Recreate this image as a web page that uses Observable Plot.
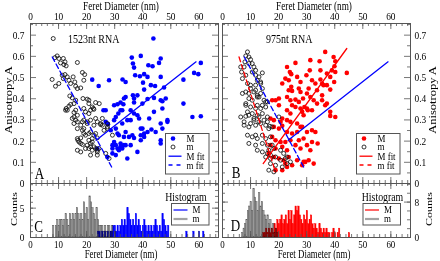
<!DOCTYPE html>
<html>
<head>
<meta charset="utf-8">
<script src="https://cdn.jsdelivr.net/npm/d3@7"></script>
<script src="https://cdn.jsdelivr.net/npm/@observablehq/plot@0.6"></script>
<style>
  body { margin: 0; background: #fff; }
  #fig { position: relative; width: 440px; height: 261px; overflow: hidden; background: #fff; }
</style>
</head>
<body>
<div id="fig"></div>
<script>
// ---- Feret diameter (nm) and anisotropy A of individual particles ----
// 1523nt RNA, large-mode particles (M)
const big1523 = [
  [43.8,0.684],[36.1,0.594],[39.3,0.602],[36.5,0.566],[36.9,0.547],[46.4,0.59],[45.8,0.569],[42.0,0.558],[43.5,0.553],
  [60.7,0.569],[58.3,0.522],[59.8,0.516],[32.8,0.491],[33.9,0.479],[37.3,0.511],[39.0,0.506],[40.5,0.516],[41.7,0.503],
  [46.4,0.503],[40.1,0.476],[42.9,0.464],[44.4,0.46],[47.6,0.453],[54.5,0.49],[33.9,0.408],[33.3,0.401],[36.5,0.416],
  [38.1,0.416],[44.0,0.404],[48.2,0.401],[54.5,0.377],[39.9,0.377],[47.0,0.388],[31.0,0.374],[33.1,0.374],[36.9,0.382],
  [22.0,0.49],[24.3,0.46],[28.0,0.487],[26.0,0.346],[32.1,0.346],[35.7,0.346],[30.4,0.314],[35.7,0.299],[38.1,0.322],
  [42.3,0.307],[41.7,0.399],[60.7,0.317],[40.5,0.443],[32.1,0.382],[29.8,0.369],[26.8,0.346],[31.3,0.33],[29.8,0.299],
  [26.8,0.291],[32.7,0.283],[28.6,0.251],[31.0,0.236],[33.9,0.243],[29.8,0.196],[32.1,0.189],[33.9,0.181],[29.2,0.165],
  [31.5,0.157],[27.4,0.125],[36.9,0.401],[46.4,0.393],[47.0,0.354],[32.7,0.346],[36.9,0.33],[44.0,0.338],[38.7,0.307],
  [34.5,0.299],[48.8,0.291],[57.7,0.314],[39.3,0.259],[43.1,0.255],[40.5,0.236],[47.0,0.259],[33.3,0.22],[35.1,0.22],
  [36.9,0.215],[39.3,0.204],[46.4,0.189],[33.3,0.181],[31.0,0.165],[32.7,0.165],[35.7,0.181],[30.4,0.134],[34.5,0.118],
  [29.2,0.181],[27.6,0.28],[30.4,0.259],[39.3,0.228],[41.7,0.243],[44.6,0.243],[46.4,0.204],[40.5,0.22],[30.4,0.181],
  [32.1,0.173],[38.1,0.149],[23.8,0.165],[29.2,0.142],[36.3,0.228],[31.5,0.228],[39.9,0.259],[46.4,0.283],[48.8,0.299]
];
// 1523nt RNA, small-mode particles (m)
const small1523 = [
  [8.1,0.684],[9.5,0.602],[8.7,0.594],[10.1,0.59],[11.7,0.59],[12.3,0.574],[11.9,0.561],[12.7,0.555],[10.7,0.569],
  [16.7,0.571],[7.7,0.491],[8.9,0.459],[11.3,0.511],[12.3,0.514],[13.1,0.503],[11.7,0.495],[15.2,0.503],[13.7,0.487],
  [15.8,0.479],[18.5,0.524],[19.3,0.514],[19.0,0.487],[10.1,0.472],[14.3,0.472],[16.1,0.459],[16.7,0.448],[17.9,0.451],
  [14.0,0.413],[14.9,0.404],[15.5,0.377],[18.7,0.401],[20.2,0.398],[14.3,0.373],[13.7,0.365],[16.1,0.393],[16.7,0.322],
  [15.5,0.314],[13.1,0.346],[21.4,0.346],[22.4,0.354],[24.5,0.377],[19.0,0.299],[20.2,0.291],[23.2,0.307],[25.6,0.275],
  [27.4,0.267],[20.8,0.393],[12.7,0.354],[16.1,0.346],[15.5,0.335],[14.9,0.307],[16.1,0.299],[20.8,0.377],[19.0,0.354],
  [22.0,0.361],[23.2,0.382],[19.6,0.338],[20.8,0.33],[22.6,0.35],[16.7,0.291],[17.9,0.275],[18.5,0.291],[20.2,0.283],
  [21.4,0.299],[22.6,0.275],[23.8,0.291],[25.0,0.278],[25.6,0.307],[27.4,0.259],[19.0,0.259],[19.6,0.228],[20.8,0.236],
  [22.0,0.212],[22.6,0.228],[23.8,0.215],[16.7,0.212],[17.9,0.215],[17.3,0.196],[18.5,0.184],[20.2,0.181],[21.4,0.189],
  [22.6,0.173],[23.2,0.165],[24.4,0.165],[23.8,0.149],[20.8,0.165],[21.4,0.134],[23.8,0.134],[12.5,0.346],[16.7,0.259],
  [18.5,0.251],[19.0,0.236],[21.4,0.243],[23.2,0.236],[16.9,0.204],[17.9,0.189],[20.8,0.204],[22.0,0.196],[16.7,0.157],
  [17.9,0.149],[19.6,0.165],[21.4,0.173],[22.0,0.157],[23.8,0.157],[26.8,0.142],[28.0,0.118],[15.5,0.283],[25.0,0.283],
  [27.4,0.283],[29.2,0.228],[26.2,0.251]
];
// 975nt RNA, large-mode particles (M)
const big975 = [
  [36.6,0.621],[39.6,0.597],[40.2,0.577],[39.9,0.553],[34.6,0.577],[39.0,0.534],[40.2,0.526],[44.3,0.522],[26.0,0.569],
  [31.3,0.582],[31.1,0.534],[34.9,0.534],[37.2,0.519],[38.4,0.503],[23.0,0.55],[24.0,0.526],[24.5,0.516],[22.4,0.495],
  [23.6,0.487],[21.3,0.472],[26.6,0.503],[27.8,0.479],[29.9,0.511],[31.9,0.487],[33.1,0.472],[34.9,0.491],[35.5,0.472],
  [37.2,0.464],[38.4,0.443],[39.8,0.479],[24.5,0.456],[23.6,0.44],[24.8,0.437],[27.2,0.448],[27.8,0.432],[30.7,0.448],
  [30.1,0.425],[31.3,0.408],[33.7,0.44],[20.1,0.401],[18.9,0.393],[23.0,0.408],[24.2,0.393],[26.0,0.396],[27.2,0.385],
  [28.7,0.401],[32.5,0.393],[33.7,0.377],[35.5,0.393],[37.2,0.377],[24.8,0.369],[26.0,0.361],[27.8,0.354],[29.2,0.361],
  [30.4,0.346],[31.9,0.346],[38.4,0.338],[40.2,0.314],[23.0,0.346],[28.9,0.322],[21.3,0.307],[23.0,0.299],[24.2,0.291],
  [26.6,0.283],[27.8,0.267],[17.1,0.307],[18.3,0.299],[17.7,0.393],[20.1,0.369],[24.2,0.33],[28.4,0.338],[30.1,0.354],
  [20.7,0.291],[18.3,0.267],[20.1,0.259],[21.3,0.272],[23.0,0.243],[24.8,0.236],[26.6,0.243],[28.4,0.267],[30.1,0.243],
  [31.9,0.251],[17.7,0.22],[18.9,0.204],[20.7,0.196],[22.4,0.196],[24.2,0.204],[17.1,0.181],[18.9,0.165],[21.3,0.173],
  [23.0,0.157],[26.0,0.181],[27.8,0.165],[30.1,0.181],[31.3,0.157],[31.9,0.196],[16.5,0.142],[18.3,0.125],[20.1,0.118],
  [21.8,0.11],[23.6,0.125],[26.6,0.11],[28.4,0.086],[29.5,0.102],[23.0,0.078],[21.3,0.063],[18.9,0.063],[22.4,0.094],
  [24.8,0.086],[28.9,0.102],[30.7,0.11],[32.5,0.094],[33.9,0.189],[27.2,0.204],[28.9,0.212],[33.1,0.243],[36.6,0.369],
  [38.4,0.319],[36.0,0.464],[35.5,0.416]
];
// 975nt RNA, small-mode particles (m)
const small975 = [
  [8.9,0.621],[8.3,0.602],[9.4,0.597],[10.0,0.585],[10.6,0.566],[9.4,0.566],[8.0,0.574],[11.2,0.55],[11.8,0.534],
  [10.6,0.526],[6.5,0.55],[7.7,0.55],[6.8,0.526],[8.3,0.511],[7.1,0.495],[11.8,0.511],[13.0,0.503],[12.4,0.487],
  [8.9,0.472],[10.0,0.464],[11.8,0.464],[13.6,0.472],[14.2,0.448],[8.3,0.432],[9.4,0.425],[11.2,0.432],[12.4,0.416],
  [13.6,0.425],[9.4,0.401],[10.6,0.393],[14.8,0.393],[16.0,0.385],[10.0,0.448],[11.8,0.44],[7.1,0.425],[13.0,0.408],
  [8.3,0.377],[10.0,0.361],[12.4,0.369],[13.6,0.354],[15.4,0.361],[8.9,0.338],[10.6,0.33],[12.4,0.322],[14.2,0.33],
  [16.0,0.314],[8.3,0.317],[11.2,0.299],[13.0,0.291],[16.0,0.291],[16.9,0.27],[7.7,0.275],[20.1,0.314],[14.2,0.522],
  [13.6,0.479],[12.4,0.408],[8.3,0.369],[11.8,0.354],[14.2,0.369],[15.4,0.385],[9.4,0.322],[11.2,0.307],[13.0,0.314],
  [14.8,0.299],[10.0,0.283],[11.8,0.275],[13.6,0.283],[15.4,0.275],[16.5,0.259],[17.7,0.267],[8.9,0.228],[10.6,0.22],
  [12.4,0.212],[14.2,0.228],[15.4,0.212],[17.1,0.22],[9.4,0.189],[11.8,0.181],[14.2,0.189],[16.0,0.181],[17.7,0.181],
  [12.4,0.157],[14.2,0.149],[16.5,0.157],[18.3,0.165],[20.7,0.157],[15.4,0.125],[17.1,0.118],[18.9,0.125],[20.7,0.11],
  [22.4,0.118],[24.2,0.102],[17.1,0.094],[18.9,0.086],[16.5,0.063],[18.3,0.055],[21.3,0.078],[23.0,0.094],[6.5,0.314],
  [7.7,0.291],[9.4,0.267],[11.8,0.228],[16.0,0.142],[17.1,0.134],[21.8,0.142],[23.0,0.125]
];

// Linear fits of A against Feret diameter (end points in nm, A)
const fit1523M = [[23.4,0.204],[59.0,0.574]];
const fit1523m = [[7.75,0.597],[29.2,0.071]];
const fit975M  = [[14.5,0.094],[44.3,0.637]];
const fit975m  = [[5.9,0.597],[18.5,0.07]];

// Histograms: counts per 0.5 nm bin, starting at the given diameter
const binWidth = 0.5;
const histStart1523m = 8.0;
const hist1523m = [2,0,2,3,2,3,3,2,3,4,3,2,4,3,4,3,4,5,4,3,4,3,6,4,5,3,7,6,5,4,3,5,3,2,2,2,1,2,1,2,2,1,2,0,1];
const histStart1523M = 24.0;
const hist1523M = [1,1,0,1,0,1,0,1,0,1,1,2,2,1,2,1,2,3,2,3,2,5,4,3,2,3,2,4,2,3,2,1,2,3,2,1,2,1,2,1,2,3,2,1,2,1,4,3,2,1,2,
  0,0,0,0,0,0,0,0,0,0,0,0,1,0,0,0,0,1,0,0,0,1,0,0,1];
const histStart975m = 7.0;
const hist975m = [1,2,3,4,6,7,8,6,11,9,8,6,10,7,8,6,5,4,5,3,4,2,3,1,2,1];
const histStart975M = 14.5;
const hist975M = [1,1,2,1,2,1,2,1,3,2,4,3,4,5,3,4,5,3,6,4,6,3,5,7,6,7,5,4,3,5,4,6,3,4,5,3,2,3,2,1,3,2,1,2,1,2,1,1,0,1,2,1,0,1,2,
  0,0,0,0,0,0,1];

// Axis ticks
const xDomain = [0, 67];
const aDomain = [0, 0.755];
const xMajor = [0, 10, 20, 30, 40, 50, 60];
const xMinor = d3.range(0, 67, 2);
const aMajor = [0, 0.1, 0.2, 0.3, 0.4, 0.5, 0.6, 0.7];
const aMinor = [0.05, 0.15, 0.25, 0.35, 0.45, 0.55, 0.65, 0.75];
const c1523Major = [0, 5], c1523Minor = d3.range(0, 10, 1), c1523Domain = [0, 9.2];
const c975Major = [0, 8], c975Minor = d3.range(0, 13, 2), c975Domain = [0, 12.2];

// ---- styling ----
const FONT = '"Liberation Serif", "Times New Roman", serif';
const AX = "#555";
const BLUE = "#0000ff", RED = "#ff0000", GRAY = "#a3a3a3";
const SQ_TICK = 0.85;     // horizontal narrowing of tick lettering
const SQ_TITLE = 0.77;    // horizontal narrowing of titles and panel letters
const MAJ = 6, MIN = 3;

const fig = document.getElementById("fig");
const pts = a => a.map(([x, y]) => ({x, y}));
const bars = (start, counts) => counts.map((n, i) => ({x1: start + i * binWidth, x2: start + (i + 1) * binWidth, n})).filter(d => d.n > 0);
const fmtA = d => d === 0 ? "0" : d.toFixed(1);

function ticksX(vals, len, side, innerH) {
  return Plot.tickX(vals, {x: d => d, stroke: AX, strokeWidth: 0.8,
    ...(side === "top" ? {insetBottom: innerH - len} : {insetTop: innerH - len})});
}
function ticksY(vals, len, side, innerW) {
  return Plot.tickY(vals, {y: d => d, stroke: AX, strokeWidth: 0.8,
    ...(side === "left" ? {insetRight: innerW - len} : {insetLeft: innerW - len})});
}
function boxTicks(iw, ih, yMaj, yMin) {
  return [
    ticksX(xMajor, MAJ, "top", ih), ticksX(xMinor, MIN, "top", ih),
    ticksX(xMajor, MAJ, "bottom", ih), ticksX(xMinor, MIN, "bottom", ih),
    ticksY(yMaj, MAJ, "left", iw), ticksY(yMin, MIN, "left", iw),
    ticksY(yMaj, MAJ, "right", iw), ticksY(yMin, MIN, "right", iw)
  ];
}
function place(svg, left, top) {
  svg.style.position = "absolute";
  svg.style.left = left + "px";
  svg.style.top = top + "px";
  svg.querySelectorAll("text").forEach(t => {
    t.setAttribute("transform", (t.getAttribute("transform") || "") + ` scale(${SQ_TICK},1)`);
  });
  fig.appendChild(svg);
}
const baseStyle = {fontFamily: FONT, background: "transparent", overflow: "visible", color: "#000"};

// ---- scatter panels ----
function scatter({left, side, big, small, bigColor, fits}) {
  const W = 220, H = 184, mT = 23, mB = 1;
  const mL = side === "left" ? 30 : 2, mR = side === "left" ? 2 : 30;
  const iw = W - mL - mR, ih = H - mT - mB;
  const svg = Plot.plot({
    width: W, height: H, marginLeft: mL, marginRight: mR, marginTop: mT, marginBottom: mB,
    style: baseStyle,
    x: {domain: xDomain}, y: {domain: aDomain},
    marks: [
      Plot.dot(pts(big), {x: "x", y: "y", r: 2.3, fill: bigColor, stroke: "none"}),
      Plot.dot(pts(small), {x: "x", y: "y", r: 2.0, fill: "none", stroke: "#111", strokeWidth: 0.85}),
      ...fits.map(f => Plot.line(pts(f.data), {x: "x", y: "y", stroke: f.color, strokeWidth: 1.3,
        strokeDasharray: f.dash ? "5,3" : null})),
      Plot.frame({stroke: AX, strokeWidth: 1}),
      ...boxTicks(iw, ih, aMajor, aMinor),
      Plot.axisX({anchor: "top", ticks: xMajor, tickSize: 0, tickPadding: 4, label: null, fontSize: 11, tickFormat: d => d}),
      Plot.axisY({anchor: side, ticks: aMajor, tickSize: 0, tickPadding: side === "left" ? 6 : 4, label: null, fontSize: 11, tickFormat: fmtA})
    ]
  });
  place(svg, left, 0);
}

// ---- histogram panels ----
function histogram({left, side, mStart, mCounts, MStart, MCounts, MColor, yDomain, yMaj, yMin}) {
  const W = 220, H = 78, mT = 0, mB = 24;
  const mL = side === "left" ? 30 : 2, mR = side === "left" ? 2 : 30;
  const iw = W - mL - mR, ih = H - mT - mB;
  const svg = Plot.plot({
    width: W, height: H, marginLeft: mL, marginRight: mR, marginTop: mT, marginBottom: mB,
    style: baseStyle,
    x: {domain: xDomain}, y: {domain: yDomain},
    marks: [
      Plot.rectY(bars(mStart, mCounts), {x1: "x1", x2: "x2", y: "n", fill: GRAY, stroke: "#5a5a5a", strokeWidth: 0.5}),
      Plot.rectY(bars(MStart, MCounts), {x1: "x1", x2: "x2", y: "n", fill: MColor, stroke: MColor, strokeWidth: 0.4, mixBlendMode: "multiply"}),
      Plot.frame({stroke: AX, strokeWidth: 1}),
      ...boxTicks(iw, ih, yMaj, yMin),
      Plot.axisX({anchor: "bottom", ticks: xMajor, tickSize: 0, tickPadding: 3, label: null, fontSize: 10.5, tickFormat: d => d}),
      Plot.axisY({anchor: side, ticks: yMaj, tickSize: 0, tickPadding: side === "left" ? 6 : 4, label: null, fontSize: 11, tickFormat: d => d})
    ]
  });
  place(svg, left, 183);
}

scatter({left: 0, side: "left", big: big1523, small: small1523, bigColor: BLUE,
  fits: [{data: fit1523M, color: BLUE}, {data: fit1523m, color: BLUE, dash: true}]});
scatter({left: 220, side: "right", big: big975, small: small975, bigColor: RED,
  fits: [{data: fit1523M, color: BLUE}, {data: fit1523m, color: BLUE, dash: true},
         {data: fit975M, color: RED}, {data: fit975m, color: RED, dash: true}]});
histogram({left: 0, side: "left", mStart: histStart1523m, mCounts: hist1523m, MStart: histStart1523M, MCounts: hist1523M,
  MColor: BLUE, yDomain: c1523Domain, yMaj: c1523Major, yMin: c1523Minor});
histogram({left: 220, side: "right", mStart: histStart975m, mCounts: hist975m, MStart: histStart975M, MCounts: hist975M,
  MColor: RED, yDomain: c975Domain, yMaj: c975Major, yMin: c975Minor});

// ---- titles, panel letters and legends ----
const ov = d3.select(fig).append("svg")
  .attr("width", 440).attr("height", 261)
  .style("position", "absolute").style("left", "0px").style("top", "0px")
  .attr("font-family", FONT);

function label(x, y, s, size, anchor = "middle", rot = 0, sq = SQ_TITLE, baseline = "central") {
  const tr = rot ? `translate(${x},${y}) rotate(${rot}) scale(1,${sq})` : `translate(${x},${y}) scale(${sq},1)`;
  ov.append("text").attr("transform", tr).attr("text-anchor", anchor)
    .attr("dominant-baseline", baseline).attr("font-size", size).attr("fill", "#000").text(s);
}

label(121, 5.5, "Feret Diameter (nm)", 12);
label(314, 5.5, "Feret Diameter (nm)", 12);
label(121, 257.5, "Feret Diameter (nm)", 11.5, "middle", 0, SQ_TITLE, "alphabetic");
label(314, 257.5, "Feret Diameter (nm)", 11.5, "middle", 0, SQ_TITLE, "alphabetic");
label(9, 100, "Anisotropy A", 12.5, "middle", -90);
label(433, 100, "Anisotropy A", 12.5, "middle", -90);
label(14, 209, "Counts", 12, "middle", -90);
label(429, 209, "Counts", 12, "middle", -90);
label(68, 39.5, "1523nt RNA", 13, "start");
label(266, 39.5, "975nt RNA", 13, "start");
label(39.5, 172.5, "A", 17);
label(236, 171.5, "B", 17);
label(38.5, 226, "C", 17);
label(235.5, 224.5, "D", 17);
label(186, 197, "Histogram", 12, "middle", 0, 0.82);
label(382.5, 197, "Histogram", 12, "middle", 0, 0.82);

function scatterLegend(x0, color) {
  const g = ov.append("g");
  g.append("rect").attr("x", x0).attr("y", 133.5).attr("width", 43.5).attr("height", 40.5)
    .attr("fill", "#fff").attr("stroke", AX).attr("stroke-width", 1);
  const sx = x0 + 7.5, tx = x0 + 21;
  g.append("circle").attr("cx", sx).attr("cy", 138.5).attr("r", 2.3).attr("fill", color);
  g.append("circle").attr("cx", sx).attr("cy", 147).attr("r", 2).attr("fill", "none").attr("stroke", "#111").attr("stroke-width", 0.85);
  g.append("line").attr("x1", x0 + 3).attr("x2", x0 + 16).attr("y1", 156.2).attr("y2", 156.2).attr("stroke", color).attr("stroke-width", 1.3);
  g.append("line").attr("x1", x0 + 3).attr("x2", x0 + 16).attr("y1", 165).attr("y2", 165).attr("stroke", color).attr("stroke-width", 1.3).attr("stroke-dasharray", "4,4");
  [["M", 138.5], ["m", 146.5], ["M fit", 156], ["m fit", 165]].forEach(([s, y]) => label(tx, y, s, 10.5, "start", 0, 0.85));
}
scatterLegend(165.5, BLUE);
scatterLegend(356.5, RED);

function histLegend(x0, color) {
  const g = ov.append("g");
  g.append("rect").attr("x", x0).attr("y", 203.5).attr("width", 37.5).attr("height", 21.5)
    .attr("fill", "#fff").attr("stroke", AX).attr("stroke-width", 1);
  g.append("line").attr("x1", x0 + 2).attr("x2", x0 + 16).attr("y1", 210).attr("y2", 210).attr("stroke", color).attr("stroke-width", 1.2);
  g.append("line").attr("x1", x0 + 2).attr("x2", x0 + 16).attr("y1", 219).attr("y2", 219).attr("stroke", GRAY).attr("stroke-width", 2.2);
  label(x0 + 21, 209.5, "M", 10.5, "start", 0, 0.85);
  label(x0 + 21, 218.5, "m", 10.5, "start", 0, 0.85);
}
histLegend(171.5, BLUE);
histLegend(363, RED);
</script>
</body>
</html>
